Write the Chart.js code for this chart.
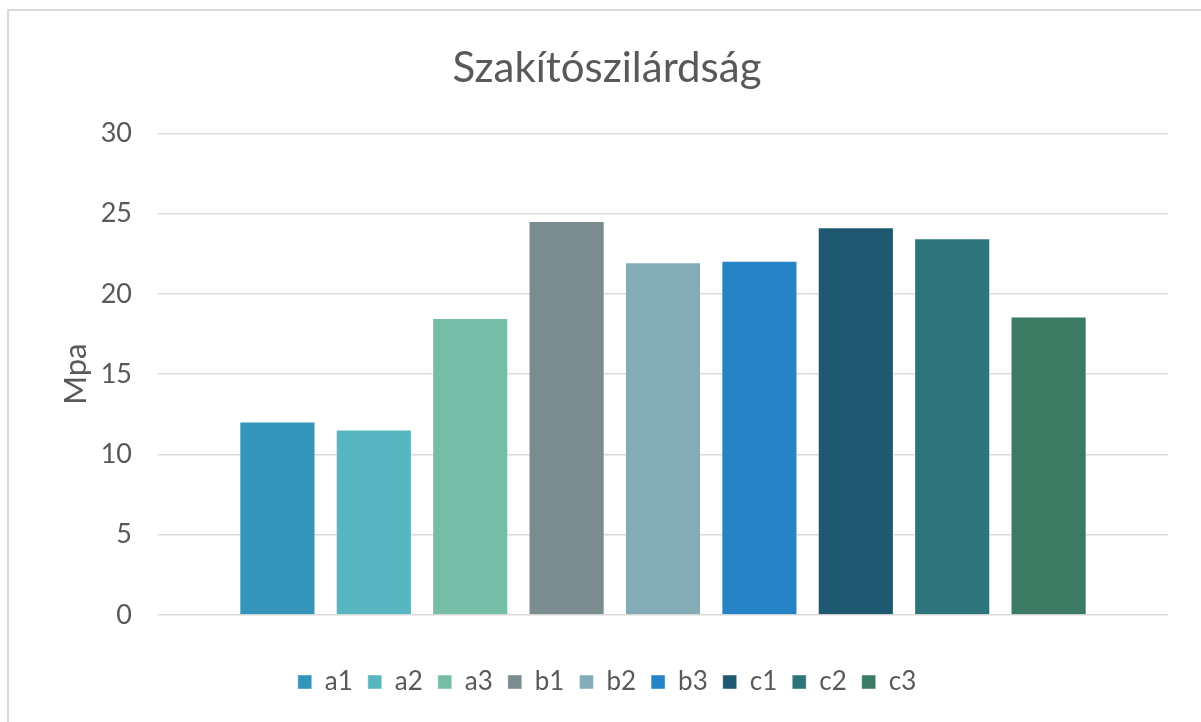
<!DOCTYPE html>
<html>
<head>
<meta charset="utf-8">
<script src="https://cdn.jsdelivr.net/npm/chart.js@4.4.1/dist/chart.umd.min.js"></script>
<style>
  html, body { margin: 0; padding: 0; background: #fff; }
  #wrap { position: relative; width: 1201px; height: 722px; overflow: hidden; }
  #chart { position: absolute; left: 0; top: 0; }
  #frame { position: absolute; left: 7px; top: 9px; width: 1300px; height: 800px;
           border-left: 2px solid #d9d9d9; border-top: 2px solid #d9d9d9; pointer-events: none; }
</style>
</head>
<body>
<div id="wrap">
  <canvas id="chart" width="1201" height="722"></canvas>
  <div id="frame"></div>
</div>
<script>
"use strict";

var seriesNames = ["a1", "a2", "a3", "b1", "b2", "b3", "c1", "c2", "c3"];
var seriesValues = [12.05, 11.55, 18.5, 24.55, 21.98, 22.07, 24.15, 23.47, 18.6];
var seriesColors = ["#3494BA", "#58B6C0", "#75BDA7", "#7A8C8E", "#84ACB6", "#2683C6", "#1F5871", "#2E757B", "#3B7B64"];
var yTicks = [0, 5, 10, 15, 20, 25, 30];

var textColor = "#595959";
var fontFamily = "Lato, 'Open Sans', sans-serif";

var datasets = seriesNames.map(function(name, i) {
    return {
        label: name,
        data: [seriesValues[i]],
        backgroundColor: seriesColors[i],
        borderColor: "rgba(255,255,255,0.45)",
        borderWidth: 1,
        categoryPercentage: 0.859,
        barPercentage: 0.79
    };
});

var ctx = document.getElementById("chart").getContext("2d");
var chart = new Chart(ctx, {
    type: "bar",
    data: {
        labels: [""],
        datasets: datasets
    },
    options: {
        responsive: false,
        animation: false,
        layout: { padding: { left: 13, right: 0, top: 0, bottom: 17 } },
        plugins: {
            tooltip: { enabled: false },
            title: {
                display: true,
                text: "Szakítószilárdság",
                color: textColor,
                font: { family: fontFamily, size: 42, weight: "normal" },
                padding: { top: 43, bottom: 40 }
            },
            legend: {
                position: "bottom",
                labels: {
                    color: textColor,
                    font: { family: fontFamily, size: 26 },
                    boxWidth: 14,
                    boxHeight: 14,
                    padding: 15
                }
            }
        },
        scales: {
            x: {
                afterFit: function(scale) {
                    scale.height = 39;
                },
                grid: { display: false },
                border: { display: false },
                ticks: { display: false }
            },
            y: {
                min: 0,
                max: 30,
                afterBuildTicks: function(scale) {
                    scale.ticks = yTicks.map(function(v) { return { value: v }; });
                },
                afterFit: function(scale) {
                    scale.width = 145;
                },
                grid: { color: "#d9d9d9", lineWidth: 1.5, drawTicks: false },
                border: { display: false },
                ticks: {
                    color: textColor,
                    font: { family: fontFamily, size: 27 },
                    padding: 26
                },
                title: {
                    display: true,
                    text: "Mpa",
                    color: textColor,
                    font: { family: fontFamily, size: 31 },
                    padding: { top: 44, bottom: 0 }
                }
            },
            // empty right axis, only keeps the plot clear of the right edge
            yRight: {
                position: "right",
                afterFit: function(scale) {
                    scale.width = 33;
                },
                grid: { display: false },
                border: { display: false },
                ticks: { display: false }
            }
        }
    }
});
</script>
</body>
</html>
